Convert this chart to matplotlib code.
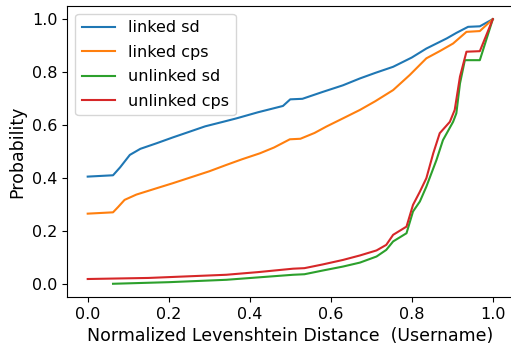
import matplotlib
matplotlib.use("Agg")
import matplotlib.pyplot as plt

# CDF samples for each pairing / method
linked_sd_x = [0.0, 0.0625, 0.08, 0.104, 0.13, 0.17, 0.21, 0.252, 0.29, 0.334, 0.367,
               0.42, 0.482, 0.50, 0.53, 0.58, 0.63, 0.672, 0.71, 0.754, 0.80, 0.836,
               0.886, 0.91, 0.939, 0.968, 1.0]
linked_sd_y = [0.405, 0.41, 0.44, 0.487, 0.51, 0.531, 0.553, 0.575, 0.595, 0.612, 0.625,
               0.648, 0.672, 0.697, 0.699, 0.725, 0.75, 0.776, 0.797, 0.82, 0.855, 0.889,
               0.927, 0.948, 0.971, 0.973, 1.0]

linked_cps_x = [0.0, 0.0625, 0.075, 0.091, 0.12, 0.17, 0.21, 0.26, 0.30, 0.342, 0.38,
                0.425, 0.46, 0.499, 0.525, 0.56, 0.589, 0.63, 0.672, 0.71, 0.754, 0.795,
                0.836, 0.87, 0.902, 0.935, 0.968, 1.0]
linked_cps_y = [0.265, 0.27, 0.29, 0.317, 0.337, 0.361, 0.38, 0.405, 0.425, 0.449, 0.47,
                0.493, 0.515, 0.546, 0.548, 0.57, 0.594, 0.625, 0.657, 0.69, 0.732, 0.789,
                0.852, 0.88, 0.908, 0.952, 0.955, 1.0]

unlinked_sd_x = [0.0625, 0.2, 0.342, 0.42, 0.507, 0.535, 0.58, 0.63, 0.672, 0.713, 0.737,
                 0.754, 0.787, 0.803, 0.82, 0.836, 0.861, 0.877, 0.902, 0.91, 0.919, 0.931,
                 0.968, 1.0]
unlinked_sd_y = [0.0, 0.006, 0.015, 0.024, 0.034, 0.036, 0.05, 0.065, 0.08, 0.103, 0.128,
                 0.16, 0.191, 0.273, 0.311, 0.367, 0.468, 0.543, 0.612, 0.644, 0.757, 0.845,
                 0.845, 1.0]

unlinked_cps_x = [0.0, 0.15, 0.342, 0.42, 0.507, 0.535, 0.58, 0.63, 0.672, 0.713, 0.737,
                  0.754, 0.787, 0.803, 0.82, 0.836, 0.853, 0.869, 0.894, 0.906, 0.919,
                  0.935, 0.968, 1.0]
unlinked_cps_y = [0.018, 0.022, 0.034, 0.044, 0.057, 0.059, 0.073, 0.09, 0.107, 0.126, 0.147,
                  0.185, 0.216, 0.298, 0.348, 0.399, 0.493, 0.569, 0.612, 0.657, 0.783,
                  0.877, 0.879, 1.0]

series = [
    ("linked sd", linked_sd_x, linked_sd_y, "#1f77b4"),
    ("linked cps", linked_cps_x, linked_cps_y, "#ff7f0e"),
    ("unlinked sd", unlinked_sd_x, unlinked_sd_y, "#2ca02c"),
    ("unlinked cps", unlinked_cps_x, unlinked_cps_y, "#d62728"),
]

plt.rcParams["font.size"] = 11.5

fig = plt.figure(figsize=(5.11, 3.49), dpi=100)
ax = fig.add_axes([0.132, 0.149, 0.872, 0.834])

for label, xs, ys, color in series:
    ax.plot(xs, ys, color=color, linewidth=1.5, label=label)

ax.set_xlim(-0.05, 1.05)
ax.set_ylim(-0.05, 1.05)
ax.set_xticks([0.0, 0.2, 0.4, 0.6, 0.8, 1.0])
ax.set_yticks([0.0, 0.2, 0.4, 0.6, 0.8, 1.0])
ax.tick_params(labelsize=11.5)
ax.set_xlabel("Normalized Levenshtein Distance  (Username)", fontsize=12.5)
ax.set_ylabel("Probability", fontsize=12.5)
ax.legend(loc="upper left", fontsize=11.5, handlelength=2.1, labelspacing=0.6)

fig.savefig("out.png", dpi=100)
